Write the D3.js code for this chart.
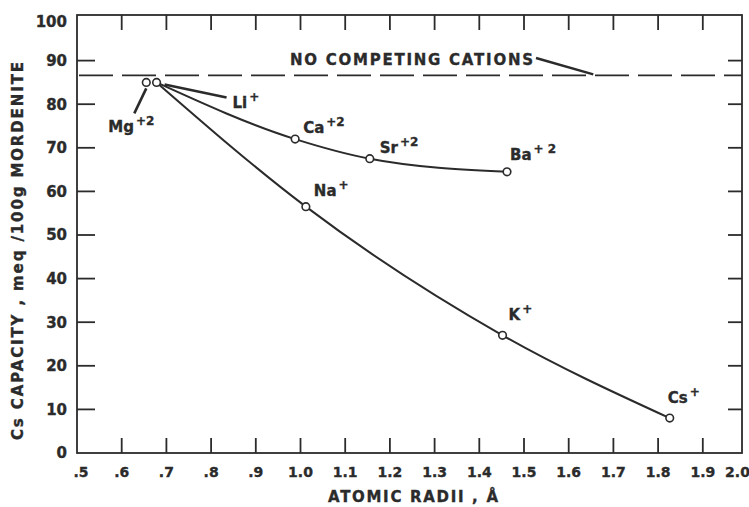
<!DOCTYPE html>
<html><head><meta charset="utf-8">
<script src="https://cdn.jsdelivr.net/npm/d3@7"></script>
<style>body{margin:0;background:#fff}svg{display:block}</style>
</head><body><svg id="c" width="749" height="507"></svg>
<script>
// ---- data ----
const ions     = ["Mg","Li","Ca","Na","Sr","Ba","K","Cs"];
const charges  = ["+2","+","+2","+","+2","+ 2","+","+"];
const radii    = [0.655,0.678,0.988,1.012,1.155,1.462,1.452,1.826];
const capacity = [85.0,85.0,72.0,56.5,67.5,64.5,27.0,8.0];
const divalentCurve   = ["Li","Ca","Sr","Ba"];
const monovalentCurve = ["Li","Na","K","Cs"];
const noCompeting = 86.6;
const xTicks = [0.5,0.6,0.7,0.8,0.9,1.0,1.1,1.2,1.3,1.4,1.5,1.6,1.7,1.8,1.9,2.0];
const xTickLabels = [".5",".6",".7",".8",".9","1.0","1.1","1.2","1.3","1.4","1.5","1.6","1.7","1.8","1.9","2.0"];
const yTicks = [0,10,20,30,40,50,60,70,80,90,100];
const yTickLabels = ["0","10","20","30","40","50","60","70","80","90","100"];
const xTitle = "ATOMIC RADII , Å";
const yTitle = "Cs CAPACITY , meq /100g MORDENITE";
const refLabel = "NO COMPETING CATIONS";

// ---- layout (label placement relative to points) ----
const labelLayout = {
  Mg:{dx:-38,dy:50, lead:[[0,6],[-12,31]]},
  Li:{dx:76,dy:26, lead:[[8,2],[70,15]]},
  Ca:{dx:8,dy:-6}, Na:{dx:8,dy:-11}, Sr:{dx:10,dy:-6},
  Ba:{dx:3,dy:-12}, K:{dx:6,dy:-15}, Cs:{dx:-2,dy:-15}
};

const ink = "#2b2b2b";
const svg = d3.select("#c");
const L=77, R=742, T=15, B=453;
const x = d3.scaleLinear().domain([0.5,2.0]).range([77,747.5]);
const y = d3.scaleLinear().domain([0,100]).range([453,17]);
const font = "'DejaVu Sans', sans-serif";

const pts = ions.map((n,i)=>({name:n, charge:charges[i], x:radii[i], y:capacity[i]}));
const byName = Object.fromEntries(pts.map(p=>[p.name,p]));

function txt(sel){
  return sel.attr("font-family",font).attr("font-weight","bold")
    .attr("fill",ink).attr("stroke",ink).attr("stroke-width",0.35);
}

// frame
svg.append("rect").attr("x",L).attr("y",T).attr("width",R-L).attr("height",B-T)
  .attr("fill","none").attr("stroke",ink).attr("stroke-width",1.8);

// x ticks (inside, top & bottom)
const inner = xTicks.filter(t=>t>0.55 && t<1.95);
svg.selectAll(".xtb").data(inner).join("line")
  .attr("x1",d=>x(d)).attr("x2",d=>x(d)).attr("y1",B).attr("y2",B-15)
  .attr("stroke",ink).attr("stroke-width",1.8);
svg.selectAll(".xtt").data(inner).join("line")
  .attr("x1",d=>x(d)).attr("x2",d=>x(d)).attr("y1",T).attr("y2",T+15)
  .attr("stroke",ink).attr("stroke-width",1.8);
// y ticks
const yin = yTicks.filter(t=>t>0 && t<100);
svg.selectAll(".ytl").data(yin).join("line")
  .attr("x1",L).attr("x2",L+18).attr("y1",d=>y(d)).attr("y2",d=>y(d))
  .attr("stroke",ink).attr("stroke-width",1.8);
svg.selectAll(".ytr").data(yin).join("line")
  .attr("x1",R).attr("x2",R-14).attr("y1",d=>y(d)).attr("y2",d=>y(d))
  .attr("stroke",ink).attr("stroke-width",1.8);

// tick labels
txt(svg.selectAll(".xl").data(xTicks).join("text"))
  .attr("x",(d,i)=> i===xTicks.length-1 ? x(d)-10 : x(d)+ (i===0?4:0))
  .attr("y",477).attr("text-anchor","middle").attr("font-size",14)
  .text((d,i)=>xTickLabels[i]);
txt(svg.selectAll(".yl").data(yTicks).join("text"))
  .attr("x",67).attr("y",(d)=>y(d) + (d===100?5:0)).attr("dy","0.36em")
  .attr("text-anchor","end").attr("font-size",15)
  .text((d,i)=>yTickLabels[i]);

// axis titles
txt(svg.append("text")).attr("x",328).attr("y",502)
  .attr("textLength",170).attr("lengthAdjust","spacing").attr("font-size",15)
  .text(xTitle);
txt(svg.append("text")).attr("transform","translate(23,440) rotate(-90)")
  .attr("textLength",378).attr("lengthAdjust","spacing").attr("font-size",15)
  .text(yTitle);

// reference dashed line
svg.append("line").attr("x1",L).attr("x2",R).attr("y1",y(noCompeting)).attr("y2",y(noCompeting))
  .attr("stroke",ink).attr("stroke-width",1.8).attr("stroke-dasharray","34,9").attr("stroke-dashoffset",-2);
txt(svg.append("text")).attr("x",290).attr("y",65)
  .attr("textLength",243).attr("lengthAdjust","spacing").attr("font-size",15)
  .text(refLabel);
svg.append("line").attr("x1",536).attr("y1",58).attr("x2",x(1.655)).attr("y2",y(noCompeting)-1)
  .attr("stroke",ink).attr("stroke-width",2.4);

// curves
const line = d3.line().x(d=>x(d.x)).y(d=>y(d.y)).curve(d3.curveMonotoneX);
[divalentCurve, monovalentCurve].forEach(c=>{
  svg.append("path").attr("d",line(c.map(n=>byName[n])))
    .attr("fill","none").attr("stroke",ink).attr("stroke-width",2);
});

// leaders
pts.forEach(p=>{
  const l = labelLayout[p.name];
  if(l.lead){
    svg.append("line")
      .attr("x1",x(p.x)+l.lead[0][0]).attr("y1",y(p.y)+l.lead[0][1])
      .attr("x2",x(p.x)+l.lead[1][0]).attr("y2",y(p.y)+l.lead[1][1])
      .attr("stroke",ink).attr("stroke-width",2.6);
  }
});

// points
svg.selectAll(".pt").data(pts).join("circle")
  .attr("cx",d=>x(d.x)).attr("cy",d=>y(d.y)).attr("r",3.8)
  .attr("fill","#fff").attr("stroke",ink).attr("stroke-width",1.6);

// labels
pts.forEach(p=>{
  const t = txt(svg.append("text")).attr("x",x(p.x)+labelLayout[p.name].dx)
    .attr("y",y(p.y)+labelLayout[p.name].dy).attr("font-size",15);
  t.append("tspan").text(p.name);
  t.append("tspan").attr("dy",-7).attr("dx",2).attr("font-size",12).text(p.charge);
});
</script></body></html>
